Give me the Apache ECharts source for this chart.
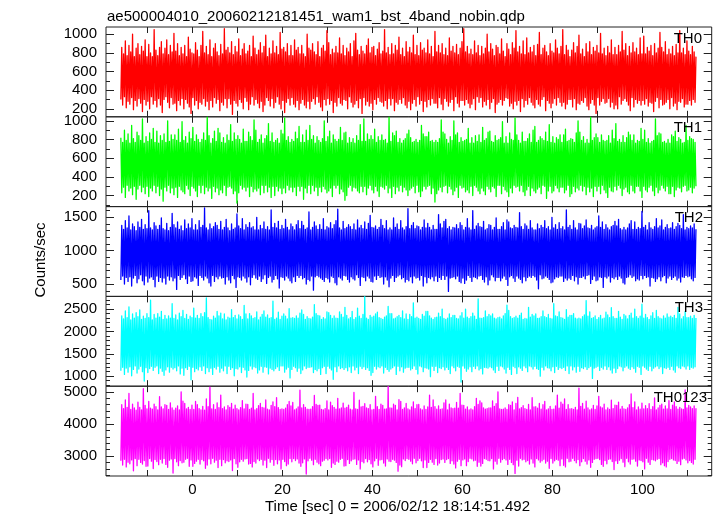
<!DOCTYPE html>
<html><head><meta charset="utf-8">
<script src="https://cdn.jsdelivr.net/npm/echarts@6/dist/echarts.min.js"></script>
<style>html,body{margin:0;padding:0;background:#fff}#c{width:717px;height:516px}</style>
</head><body><div id="c"></div>
<script>
const chartTitle = 'ae500004010_20060212181451_wam1_bst_4band_nobin.qdp';
const xTitle = 'Time [sec] 0 = 2006/02/12 18:14:51.492';
const yTitle = 'Counts/sec';
const bandNames = ['TH0', 'TH1', 'TH2', 'TH3', 'TH0123'];
const timeStart = -15.9, timeStep = 0.2;
const xTickLabels = [0, 20, 40, 60, 80, 100];
const xTickMarks = [-10, 0, 10, 20, 30, 40, 50, 60, 70, 80, 90, 100, 110];
const yTickLabels = [
  [200, 400, 600, 800, 1000],
  [200, 400, 600, 800, 1000],
  [500, 1000, 1500],
  [1000, 1500, 2000, 2500],
  [3000, 4000, 5000]
];
const yRanges = [[114, 1078], [82, 1043], [316, 1660], [776, 2784], [2378, 5177]];
const yMinorStep = [100, 100, 100, 100, 200];

const th0 = [
300,860,240,790,330,930,210,770,280,880,
250,810,320,1000,190,760,290,850,230,900,
310,780,260,870,170,820,300,940,240,760,
280,890,200,800,330,760,250,1050,290,830,
220,770,310,860,240,920,160,790,300,850,
330,940,270,780,210,880,320,810,250,1010,
260,820,180,900,290,770,240,860,310,790,
200,880,300,760,260,970,220,840,150,800,
320,790,240,910,290,830,200,760,270,880,
250,1030,310,800,230,870,280,780,190,940,
290,760,220,850,320,900,260,810,300,770,
180,890,270,790,240,1060,310,830,210,860,
310,800,250,920,140,780,290,870,260,810,
230,950,300,770,270,840,200,900,320,790,
280,820,190,880,250,760,330,980,240,850,
300,780,260,830,210,910,280,800,170,870,
240,990,320,760,290,850,230,790,310,930,
210,800,270,870,330,780,250,1020,200,840,
290,860,160,810,270,900,310,770,240,880,
320,770,250,940,220,830,290,860,190,790,
260,880,300,790,240,760,210,1000,280,850,
200,830,280,900,310,810,250,780,330,920,
270,760,220,850,180,880,300,820,240,1040,
310,910,250,780,290,840,160,800,270,870,
230,800,320,960,260,790,240,880,300,770,
290,850,200,810,330,900,270,760,220,930,
250,1010,290,830,210,780,310,870,150,820,
320,790,240,880,280,950,230,800,260,860,
190,870,300,770,250,840,320,910,280,790,
270,820,230,1050,290,800,200,860,310,780,
240,900,310,790,180,880,270,830,250,970,
300,780,260,850,320,760,240,920,210,810,
280,860,190,800,260,990,300,780,230,880,
330,770,250,910,290,830,170,850,280,800,
220,940,300,790,240,870,310,760,260,1030,
260,810,210,880,320,800,250,900,190,780,
310,850,280,770,230,960,270,820,300,870,
180,800,330,890,260,780,220,850,290,920,
290,1060,240,810,300,870,260,790,210,840,
250,780,310,930,190,800,330,880,270,770,
320,870,220,790,280,850,240,1000,300,810,
200,900,270,840,310,770,160,880,250,860,
270,790,300,950,240,820,290,760,320,900,
310,840,230,780,260,910,200,850,280,1040,
240,810,290,870,170,790,310,930,220,780,
290,960,250,800,320,860,270,810,240,880,
210,770,300,890,250,1020,230,780,300,850,
330,880,180,810,290,770,260,900,210,820,
260,800,310,940,240,850,320,790,270,870,
230,1050,270,780,200,880,250,830,300,760,
300,830,220,910,310,800,190,870,260,990,
250,790,290,840,270,760,320,900,230,810,
190,920,260,780,300,860,240,820,150,880,
320,800,240,1010,280,790,310,850,260,770,
270,870,310,800,220,940,270,780,200,860,
240,780,200,880,330,810,250,1030,290,830,
310,900,280,770,240,870,180,800,320,910,
220,810,300,850,260,780,290,960,240,790,
290,980,250,790,310,860,230,820,270,880,
260,770,170,900,280,800,320,850,210,1020,
300,860,240,810,250,920,270,780,300,840,
200,790,320,870,230,770,260,890,190,800,
280,1040,270,800,310,850,220,780,250,930,
250,820,290,780,240,870,300,810,270,760
];
const th1 = [
820,230,770,290,900,180,790,310,860,250,
760,280,950,210,810,300,770,160,880,270,
840,310,790,240,1020,290,760,220,830,300,
780,190,870,280,800,250,920,310,770,230,
890,300,760,200,840,270,790,140,860,290,
770,250,1000,310,780,230,850,280,800,210,
850,290,790,180,910,300,770,260,990,240,
790,220,830,310,760,270,880,200,810,300,
930,280,780,250,850,190,800,310,770,230,
800,310,870,220,790,290,1040,250,840,280,
760,170,810,300,890,240,780,280,920,210,
870,260,770,230,820,310,760,200,850,290,
790,300,960,280,780,220,870,250,800,120,
840,230,800,310,760,270,910,290,780,250,
780,290,880,190,830,300,790,240,1010,270,
900,250,770,280,800,210,850,310,760,230,
810,310,840,240,970,290,780,180,870,300,
770,200,790,300,810,250,760,280,900,220,
860,280,1030,230,790,310,830,260,770,290,
800,240,780,290,880,200,810,300,940,250,
770,300,850,160,770,280,900,230,790,310,
950,220,800,310,840,250,760,290,830,200,
790,290,770,240,810,300,1000,270,780,230,
830,250,890,280,760,190,850,310,800,280,
780,310,800,220,930,270,790,240,870,150,
880,200,760,290,820,310,770,250,810,290,
760,280,840,250,790,230,960,300,780,240,
1020,300,780,210,860,280,800,310,840,260,
800,230,910,300,770,250,830,190,790,300,
850,290,790,270,800,310,760,230,1040,280,
780,180,870,300,840,220,890,290,770,250,
810,310,760,240,790,290,810,260,860,200,
900,260,820,280,770,300,780,230,800,310,
770,240,790,190,950,250,860,300,830,270,
830,300,880,310,780,220,790,280,770,130,
790,220,770,260,810,290,1010,240,880,300,
860,310,800,230,760,300,830,270,790,210,
1000,250,850,290,870,180,770,310,820,280,
780,290,790,240,800,260,920,230,760,300,
820,200,760,310,840,290,780,250,850,220,
770,280,930,250,790,210,810,300,880,270,
890,240,780,300,770,280,840,190,790,310,
800,310,820,220,990,300,760,260,830,240,
760,190,870,280,800,230,790,310,1030,290,
850,300,790,250,760,310,880,240,780,200,
780,260,810,300,860,200,770,280,900,250,
940,230,770,270,790,290,830,220,810,310,
790,300,880,170,780,250,960,300,770,230,
830,250,760,310,820,280,800,240,850,290,
770,290,850,230,910,260,780,310,790,190,
810,220,800,300,770,240,870,280,1000,260,
880,310,790,250,830,300,760,210,800,290,
760,240,1040,280,790,190,820,300,860,250,
820,300,770,220,850,310,790,260,780,230,
790,180,840,290,760,250,900,240,810,300,
970,260,780,310,800,280,770,200,840,270,
770,290,820,240,880,220,850,310,790,250,
850,230,760,300,790,300,780,250,920,180,
800,300,900,260,770,240,810,290,760,310,
780,250,790,200,1020,290,840,230,870,260,
860,310,770,280,780,250,760,300,800,220,
760,220,850,300,830,190,890,260,780,290,
820,280,800,240,760,300,770,310,950,250,
790,260,830,290,810,230,800,280,770,300
];
const th2 = [
560,1380,620,1320,500,1450,600,1340,540,1520,
610,1310,470,1400,590,1360,630,1300,520,1430,
580,1350,640,1470,550,1320,490,1390,620,1330,
530,1600,590,1340,610,1310,570,1420,460,1370,
620,1320,540,1380,600,1490,530,1330,590,1310,
500,1410,620,1300,560,1350,610,1560,550,1390,
590,1340,420,1430,630,1320,570,1370,600,1300,
640,1460,580,1330,510,1400,620,1340,540,1480,
550,1310,610,1390,590,1310,480,1450,630,1350,
600,1380,560,1640,620,1340,590,1310,520,1400,
470,1330,630,1360,540,1420,610,1380,580,1320,
620,1440,590,1310,600,1350,500,1470,610,1340,
560,1300,520,1400,630,1320,580,1340,450,1550,
610,1370,600,1330,560,1480,620,1310,590,1390,
530,1350,610,1420,490,1340,600,1360,640,1310,
590,1500,570,1310,620,1380,540,1330,580,1430,
640,1320,510,1360,600,1310,620,1610,530,1350,
570,1410,630,1340,580,1440,440,1320,610,1380,
600,1330,560,1470,620,1350,590,1310,550,1400,
520,1360,610,1310,540,1390,630,1450,600,1330,
630,1440,580,1380,600,1320,500,1340,570,1580,
550,1310,620,1350,410,1430,610,1370,630,1320,
610,1390,590,1320,570,1480,540,1310,600,1360,
580,1340,530,1420,620,1330,600,1390,520,1450,
490,1620,610,1340,590,1310,560,1440,630,1330,
620,1350,570,1390,530,1360,610,1320,580,1400,
560,1310,640,1460,600,1340,480,1380,610,1330,
600,1430,550,1320,620,1410,590,1530,540,1350,
530,1340,620,1370,570,1320,630,1350,600,1470,
610,1380,500,1330,610,1450,560,1310,460,1340,
590,1310,630,1490,540,1350,600,1400,620,1320,
640,1450,580,1340,600,1310,530,1360,570,1630,
550,1330,610,1380,520,1420,620,1330,590,1370,
600,1360,560,1310,630,1350,470,1460,610,1340,
520,1410,600,1350,580,1310,610,1380,550,1320,
620,1320,540,1540,600,1400,570,1340,630,1440,
570,1470,620,1330,390,1360,590,1310,600,1350,
610,1340,580,1390,620,1330,540,1420,520,1380,
590,1310,510,1350,560,1480,630,1340,600,1310,
540,1600,610,1320,600,1370,580,1410,620,1360,
630,1350,570,1440,530,1310,610,1330,490,1390,
560,1380,640,1310,610,1350,550,1490,600,1320,
600,1320,550,1360,590,1420,620,1310,570,1460,
480,1430,610,1340,630,1330,590,1380,540,1350,
620,1340,590,1570,570,1360,520,1320,610,1400,
550,1370,600,1320,620,1450,600,1340,630,1310,
610,1310,560,1400,430,1330,640,1380,580,1350,
590,1450,620,1330,600,1360,570,1310,520,1500,
530,1340,580,1390,610,1320,600,1420,620,1330,
620,1360,540,1310,590,1610,560,1350,590,1380,
570,1320,630,1450,550,1340,610,1310,500,1410,
600,1400,600,1330,620,1370,580,1460,630,1340,
640,1330,510,1380,570,1310,620,1340,550,1360,
560,1520,610,1350,600,1430,450,1320,610,1390,
590,1340,620,1310,530,1360,600,1380,580,1440,
610,1370,570,1470,620,1330,590,1310,520,1350,
500,1310,600,1340,610,1400,640,1450,600,1320,
620,1430,550,1320,580,1350,560,1330,630,1590,
580,1350,630,1380,600,1310,610,1420,470,1340,
600,1320,590,1360,540,1480,580,1340,610,1370,
550,1460,610,1310,630,1350,520,1390,590,1330,
620,1340,570,1420,600,1320,620,1360,560,1410,
590,1380,530,1330,610,1540,600,1310,630,1350,
610,1330,620,1370,580,1340,550,1400,600,1320
];
const th3 = [
1120,2350,1200,2280,1040,2460,1180,2310,1090,2550,
1210,2260,1010,2390,1150,2300,1230,2420,1070,2330,
1160,2480,1220,2270,1100,2340,890,2290,1190,2400,
1080,2310,1170,2700,1220,2260,1130,2380,1200,2300,
1230,2400,1060,2320,1180,2450,1110,2270,1020,2360,
1140,2280,1210,2350,1090,2300,1200,2620,1160,2290,
1190,2370,1120,2260,1230,2410,1050,2330,1180,2470,
1020,2290,1190,2380,1150,2270,1220,2340,920,2310,
1200,2520,1100,2300,1170,2360,1140,2290,1210,2400,
1130,2330,1230,2420,1060,2750,1190,2310,1100,2270,
1180,2260,1040,2340,1200,2300,1160,2450,1220,2350,
1090,2410,1180,2280,1120,2390,1230,2260,1060,2320,
1220,2300,1150,2490,1190,2310,1010,2360,1170,2280,
1160,2370,1210,2330,1080,2270,1200,2580,1140,2390,
980,2280,1130,2400,1230,2350,1160,2290,1210,2310,
1190,2440,1070,2260,1140,2320,1220,2380,1090,2460,
1210,2320,1200,2370,1050,2290,1180,2310,1150,2680,
1120,2270,1170,2300,1210,2430,1130,2270,1230,2340,
1230,2390,1090,2340,1160,2280,1200,2510,960,2300,
1150,2310,1220,2290,1190,2350,1110,2300,1180,2410,
1060,2480,1140,2380,1230,2270,1170,2330,1200,2290,
1200,2280,1210,2320,1080,2600,1150,2400,1120,2360,
1170,2350,1040,2270,1190,2310,1220,2280,1060,2440,
1220,2420,1180,2360,1140,2290,930,2350,1210,2300,
1100,2290,1230,2440,1170,2380,1190,2320,1150,2540,
1190,2360,1120,2280,1210,2310,1080,2450,1230,2270,
1140,2310,1200,2520,1060,2340,1220,2290,1170,2380,
1210,2780,1150,2300,1190,2270,1130,2360,1020,2320,
1080,2340,1220,2390,1160,2430,1210,2310,1190,2290,
1230,2270,1070,2320,1200,2350,1150,2560,1110,2400,
1160,2400,1190,2280,1230,2300,1040,2330,1220,2360,
1120,2310,1210,2460,1090,2280,1180,2390,1200,2270,
1200,2380,1140,2330,1170,2640,1230,2300,1150,2320,
1050,2290,1230,2270,1210,2380,1100,2340,1190,2450,
1180,2450,1160,2350,990,2300,1220,2270,1130,2310,
1220,2320,1080,2410,1190,2330,1170,2500,1210,2290,
1140,2270,1200,2300,1150,2390,1060,2310,1230,2360,
1190,2360,1120,2290,1220,2280,1200,2350,870,2420,
1230,2300,1180,2500,1110,2320,1160,2290,1210,2330,
1100,2410,1220,2340,1170,2270,1230,2730,1140,2300,
1170,2290,1050,2310,1200,2460,1190,2330,1180,2380,
1210,2350,1190,2390,1140,2300,1080,2280,1220,2310,
1130,2320,1230,2280,1210,2350,1160,2400,1070,2590,
1200,2470,1150,2330,1040,2290,1220,2310,1190,2340,
1060,2300,1210,2360,1180,2410,1130,2270,1230,2290,
1190,2280,1100,2540,1230,2320,1210,2380,1160,2350,
1220,2390,1170,2290,1150,2300,1000,2330,1200,2460,
1140,2330,1230,2310,1190,2380,1180,2290,1120,2280,
1210,2620,1080,2350,1220,2330,1150,2440,1190,2310,
1170,2300,1200,2270,1130,2490,1230,2320,1060,2360,
1230,2360,1140,2400,1210,2300,1090,2280,1220,2300,
1110,2280,1190,2330,1170,2370,1210,2690,1150,2340,
1190,2440,1220,2290,950,2310,1180,2350,1200,2270,
1220,2310,1130,2360,1200,2280,1160,2300,1230,2430,
1150,2370,1210,2310,1140,2530,1070,2330,1180,2290,
1080,2290,1170,2450,1230,2320,1210,2270,1120,2380,
1200,2350,1230,2280,1180,2360,1150,2410,1210,2300,
1170,2500,1090,2330,1220,2290,1200,2340,1040,2610,
1230,2300,1200,2380,1160,2310,1130,2270,1220,2350,
1120,2420,1180,2290,1210,2470,1230,2330,1170,2300,
1210,2280,1060,2350,1190,2300,1170,2390,1200,2320,
1150,2340,1220,2310,1140,2360,1090,2290,1230,2540,
1190,2390,1170,2280,1230,2330,1210,2450,1160,2310,
1230,2310,1150,2340,1200,2290,1180,2360,1210,2300
];
const th0123 = [
2850,4600,2720,4480,2900,4750,2660,4520,2810,4950,
2760,4450,2880,4620,2540,4500,2920,4430,2700,4680,
2900,4520,2800,4440,2750,5100,2860,4580,2680,4470,
2690,4700,2920,4490,2840,4460,2610,4620,2890,4540,
2830,4440,2730,4850,2900,4530,2780,4470,2920,4600,
2740,4580,2650,4450,2870,4660,2910,4500,2470,4430,
2920,4490,2820,4560,2700,4440,2860,5000,2790,4710,
2810,4640,2900,4470,2930,4520,2680,4450,2880,4590,
2680,4450,2770,4700,2840,4600,2900,4480,2750,4440,
2890,4550,2850,4430,2620,4780,2720,4540,2910,5150,
2760,4470,2930,4600,2810,4450,2870,4660,2640,4510,
2900,4900,2700,4480,2890,4530,2790,4440,2850,4570,
2830,4520,2880,4640,2550,4460,2920,4590,2760,4480,
2650,4440,2820,4510,2900,4730,2840,4470,2910,4620,
2920,4610,2750,4450,2770,4490,2660,4950,2830,4440,
2780,4480,2910,4570,2860,4640,2900,4520,2720,4500,
2870,4750,2640,4460,2930,4440,2810,4580,2890,4690,
2710,4540,2890,4820,2760,4510,2880,4450,2600,4470,
2900,4450,2830,4490,2700,4600,2750,4700,2920,4560,
2820,4670,2920,4440,2860,4470,2910,4530,2780,5050,
2680,4500,2790,4600,2910,4520,2440,4460,2850,4450,
2930,4460,2870,4540,2730,4890,2900,4610,2810,4580,
2760,4590,2700,4450,2840,4440,2870,4480,2920,4720,
2880,4440,2920,4680,2650,4570,2780,4520,2740,4460,
2840,4800,2810,4470,2900,4500,2930,4650,2690,4490,
2700,4520,2890,4590,2770,4460,2850,4440,2900,4980,
2910,4470,2740,4450,2880,4740,2600,4530,2830,4550,
2790,4630,2920,4500,2820,4480,2890,4600,2760,4440,
2660,4450,2850,4860,2930,4540,2710,4450,2880,4620,
2890,4580,2780,4460,2690,4470,2910,5170,2840,4500,
2830,4490,2900,4620,2870,4580,2800,4440,2530,4760,
2720,4700,2670,4450,2910,4500,2860,4640,2920,4470,
2900,4440,2840,4530,2760,4690,2930,4480,2790,4600,
2860,4610,2930,4470,2850,4440,2640,4560,2880,4450,
2640,4530,2800,4900,2900,4520,2810,4750,2740,4540,
2920,4460,2720,4560,2780,4450,2890,4470,2910,4660,
2800,4750,2890,4440,2920,4620,2770,4500,2850,4480,
2750,4490,2630,4670,2840,4490,2900,4950,2700,4590,
2880,4580,2910,4460,2700,4530,2830,4440,2930,4470,
2910,4440,2850,4540,2870,4800,2680,4610,2810,4720,
2690,4660,2770,4500,2920,4460,2900,4480,2860,4500,
2850,4500,2920,4720,2600,4550,2840,4630,2750,5000,
2930,4470,2810,4450,2890,4460,2920,4500,2880,4450,
2740,4600,2900,4580,2800,4690,2730,4440,2460,4640,
2870,4830,2690,4470,2930,4510,2880,4570,2900,4480,
2820,4450,2860,4610,2750,4440,2910,4820,2780,4530,
2660,4540,2920,4490,2880,4640,2810,4460,2850,4600,
2900,4700,2780,4440,2840,4470,2620,4550,2920,4450,
2780,4460,2850,4560,2900,4900,2870,4490,2700,4680,
2910,4620,2710,4780,2660,4450,2930,4600,2820,4470,
2840,4480,2930,4450,2860,4520,2790,4440,2890,5120,
2700,4550,2820,4640,2920,4460,2840,4710,2750,4500,
2880,4440,2650,4470,2800,4580,2900,4450,2920,4560,
2930,4860,2890,4530,2740,4500,2680,4620,2860,4440,
2760,4500,2900,4450,2910,4740,2830,4480,2580,4590,
2850,4580,2770,4680,2870,4460,2920,4550,2810,4470,
2670,4450,2930,4500,2820,4600,2750,4940,2900,4510,
2910,4690,2840,4440,2690,4530,2880,4460,2860,4650,
2820,4470,2600,4570,2930,4480,2810,4630,2740,4450,
2890,4540,2880,4810,2850,4440,2900,4500,2920,4580,
2730,4620,2790,4460,2700,4560,2660,4470,2830,4730,
2900,4450,2920,4590,2880,4690,2860,4540,2770,4460,
2840,4520,2730,4470,2910,4450,2930,5060,2880,4500,
2790,4580,2860,4530,2800,4480,2750,4560,2900,4490
];

const seriesValues = [th0, th1, th2, th3, th0123];
const seriesColors = ['#ff0000', '#00ff00', '#0000ff', '#00ffff', '#ff00ff'];

const FONT = '"Liberation Sans", Arial, Helvetica, sans-serif';
const AX = '#222';
const gridTops = [27, 116.8, 206.6, 296.4, 386.2];
const gridH = 89.8;
const xMin = -19.2, xMax = 115.4;
const labelRight = [702, 702, 703, 703, 707];

const grids = [], xAxes = [], yAxes = [], series = [], graphics = [];

function minorValues(range, step) {
  const out = [];
  for (let v = Math.ceil(range[0] / step) * step; v <= range[1]; v += step) out.push(v);
  return out;
}
const noLine = { show: false, onZero: false };
const plain = v => String(v);

for (let i = 0; i < 5; i++) {
  grids.push({ left: 106, right: 5.3, top: gridTops[i], height: gridH, show: true,
    borderColor: AX, borderWidth: 1, backgroundColor: 'transparent' });
  const last = i === 4;
  xAxes.push({ type: 'value', gridIndex: i, position: 'bottom', min: xMin, max: xMax,
    axisLine: noLine, splitLine: { show: false },
    axisTick: { show: true, inside: true, length: 6, customValues: xTickMarks, lineStyle: { color: AX } },
    axisLabel: { show: last, customValues: xTickLabels, formatter: plain, margin: 6, fontSize: 15, fontFamily: FONT, color: '#000' } });
  xAxes.push({ type: 'value', gridIndex: i, position: 'top', min: xMin, max: xMax,
    axisLine: noLine, splitLine: { show: false },
    axisTick: { show: true, inside: true, length: 6, customValues: xTickMarks, lineStyle: { color: AX } },
    axisLabel: { show: false } });
  const r = yRanges[i];
  const minors = minorValues(r, yMinorStep[i]);
  yAxes.push({ type: 'value', gridIndex: i, position: 'left', min: r[0], max: r[1],
    axisLine: noLine, splitLine: { show: false },
    axisTick: { show: true, inside: true, length: 8, customValues: yTickLabels[i], lineStyle: { color: AX } },
    axisLabel: { show: true, customValues: yTickLabels[i], formatter: plain, margin: 9, fontSize: 15, fontFamily: FONT, color: '#000' } });
  yAxes.push({ type: 'value', gridIndex: i, position: 'right', min: r[0], max: r[1],
    axisLine: noLine, splitLine: { show: false },
    axisTick: { show: true, inside: true, length: 8, customValues: yTickLabels[i], lineStyle: { color: AX } },
    axisLabel: { show: false } });
  yAxes.push({ type: 'value', gridIndex: i, position: 'left', min: r[0], max: r[1],
    axisLine: noLine, splitLine: { show: false },
    axisTick: { show: true, inside: true, length: 4, customValues: minors, lineStyle: { color: AX } },
    axisLabel: { show: false } });
  yAxes.push({ type: 'value', gridIndex: i, position: 'right', min: r[0], max: r[1],
    axisLine: noLine, splitLine: { show: false },
    axisTick: { show: true, inside: true, length: 4, customValues: minors, lineStyle: { color: AX } },
    axisLabel: { show: false } });

  const vals = seriesValues[i];
  series.push({ type: 'line', name: bandNames[i], xAxisIndex: 2 * i, yAxisIndex: 4 * i,
    data: vals.map((v, k) => [timeStart + k * timeStep, v]),
    showSymbol: false, symbol: 'none', sampling: null, silent: true, z: 1,
    lineStyle: { color: seriesColors[i], width: 1.3, join: 'round' } });

  graphics.push({ type: 'text', x: labelRight[i], y: gridTops[i] + 11.5, z: 100,
    style: { text: bandNames[i], align: 'right', verticalAlign: 'middle', font: '15px ' + FONT, fill: '#000' } });
}

graphics.push({ type: 'text', x: 107, y: 16.5,
  style: { text: chartTitle, align: 'left', verticalAlign: 'middle', font: '15px ' + FONT, fill: '#000' } });
graphics.push({ type: 'text', x: 397.5, y: 507,
  style: { text: xTitle, align: 'center', verticalAlign: 'middle', font: '15px ' + FONT, fill: '#000' } });
graphics.push({ type: 'text', x: 41, y: 260, rotation: Math.PI / 2,
  style: { text: yTitle, align: 'center', verticalAlign: 'middle', font: '15px ' + FONT, fill: '#000' } });

const chart = echarts.init(document.getElementById('c'), null, { renderer: 'canvas' });
chart.setOption({
  animation: false,
  backgroundColor: '#fff',
  grid: grids, xAxis: xAxes, yAxis: yAxes, series: series, graphic: graphics
});
</script></body></html>
